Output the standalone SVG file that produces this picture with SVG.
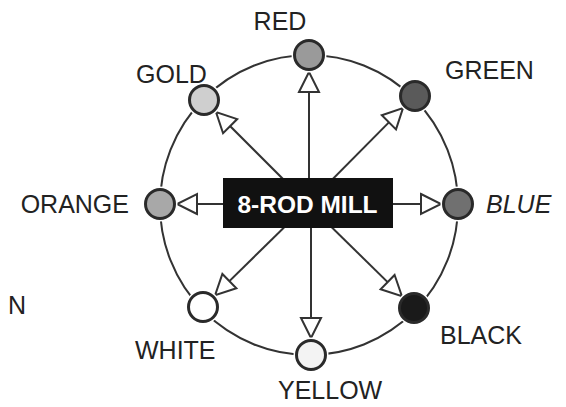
<svg xmlns="http://www.w3.org/2000/svg" width="566" height="407" viewBox="0 0 566 407">
<style>
.lbl{font-family:"Liberation Sans",Arial,sans-serif;font-size:25px;fill:#222}
.ring{fill:none;stroke:#333;stroke-width:2}
.conn{stroke:#333;stroke-width:2;fill:none;marker-end:url(#hollow)}
.halo{fill:#fff}
.dot{stroke:#2a2a2a;stroke-width:3}
</style>
<defs>
<marker id="hollow" markerUnits="userSpaceOnUse" markerWidth="24" markerHeight="24" refX="21" refY="11" orient="auto" overflow="visible">
<path d="M1,1 L21,11 L1,21 Z" fill="#fff" stroke="#333" stroke-width="2"/>
</marker>
</defs>
<rect width="566" height="407" fill="#fff"/>
<ellipse class="ring" cx="309" cy="205" rx="149" ry="150"/>
<g id="connectors">
<line class="conn" x1="309" y1="204" x2="309" y2="72"/>
<line class="conn" x1="308" y1="204" x2="216" y2="112"/>
<line class="conn" x1="308" y1="204" x2="403" y2="108.1"/>
<line class="conn" x1="308" y1="204" x2="177" y2="204"/>
<line class="conn" x1="308" y1="204" x2="441" y2="204"/>
<line class="conn" x1="308" y1="204" x2="215.1" y2="295.1"/>
<line class="conn" x1="311" y1="204" x2="311" y2="338"/>
<line class="conn" x1="308" y1="204" x2="401.9" y2="296.1"/>
</g>
<g id="mill">
<rect x="223" y="178" width="170" height="50" fill="#111"/>
<text x="307.5" y="212.5" text-anchor="middle" font-family="Liberation Sans,Arial,sans-serif" font-weight="bold" font-size="24.5" fill="#fff">8-ROD MILL</text>
</g>
<g id="red">
<circle class="halo" cx="309" cy="55" r="17.5"/>
<circle class="dot" cx="309" cy="55" r="14.5" fill="#9a9a9a"/>
<text class="lbl" x="280" y="30" text-anchor="middle">RED</text>
</g>
<g id="gold">
<circle class="halo" cx="204" cy="100" r="17.5"/>
<circle class="dot" cx="204" cy="100" r="14.5" fill="#cfcfcf"/>
<text class="lbl" x="136" y="83">GOLD</text>
</g>
<g id="green">
<circle class="halo" cx="415" cy="96" r="17.5"/>
<circle class="dot" cx="415" cy="96" r="14.5" fill="#5a5a5a"/>
<text class="lbl" x="445" y="79">GREEN</text>
</g>
<g id="orange">
<circle class="halo" cx="160" cy="204" r="17.5"/>
<circle class="dot" cx="160" cy="204" r="14.5" fill="#a8a8a8"/>
<text class="lbl" x="129" y="213" text-anchor="end">ORANGE</text>
</g>
<g id="blue">
<circle class="halo" cx="458" cy="204" r="17.5"/>
<circle class="dot" cx="458" cy="204" r="14.5" fill="#707070"/>
<text class="lbl" x="486" y="213" font-style="italic">BLUE</text>
</g>
<g id="white">
<circle class="halo" cx="203" cy="307" r="17.5"/>
<circle class="dot" cx="203" cy="307" r="14.5" fill="#fff"/>
<text class="lbl" x="135" y="359">WHITE</text>
</g>
<g id="yellow">
<circle class="halo" cx="311" cy="355" r="17.5"/>
<circle class="dot" cx="311" cy="355" r="14.5" fill="#f3f3f3"/>
<text class="lbl" x="278" y="399">YELLOW</text>
</g>
<g id="black">
<circle class="halo" cx="414" cy="308" r="17.5"/>
<circle class="dot" cx="414" cy="308" r="14.5" fill="#1a1a1a"/>
<text class="lbl" x="440" y="344">BLACK</text>
</g>
<text class="lbl" x="8" y="314">N</text>
</svg>
